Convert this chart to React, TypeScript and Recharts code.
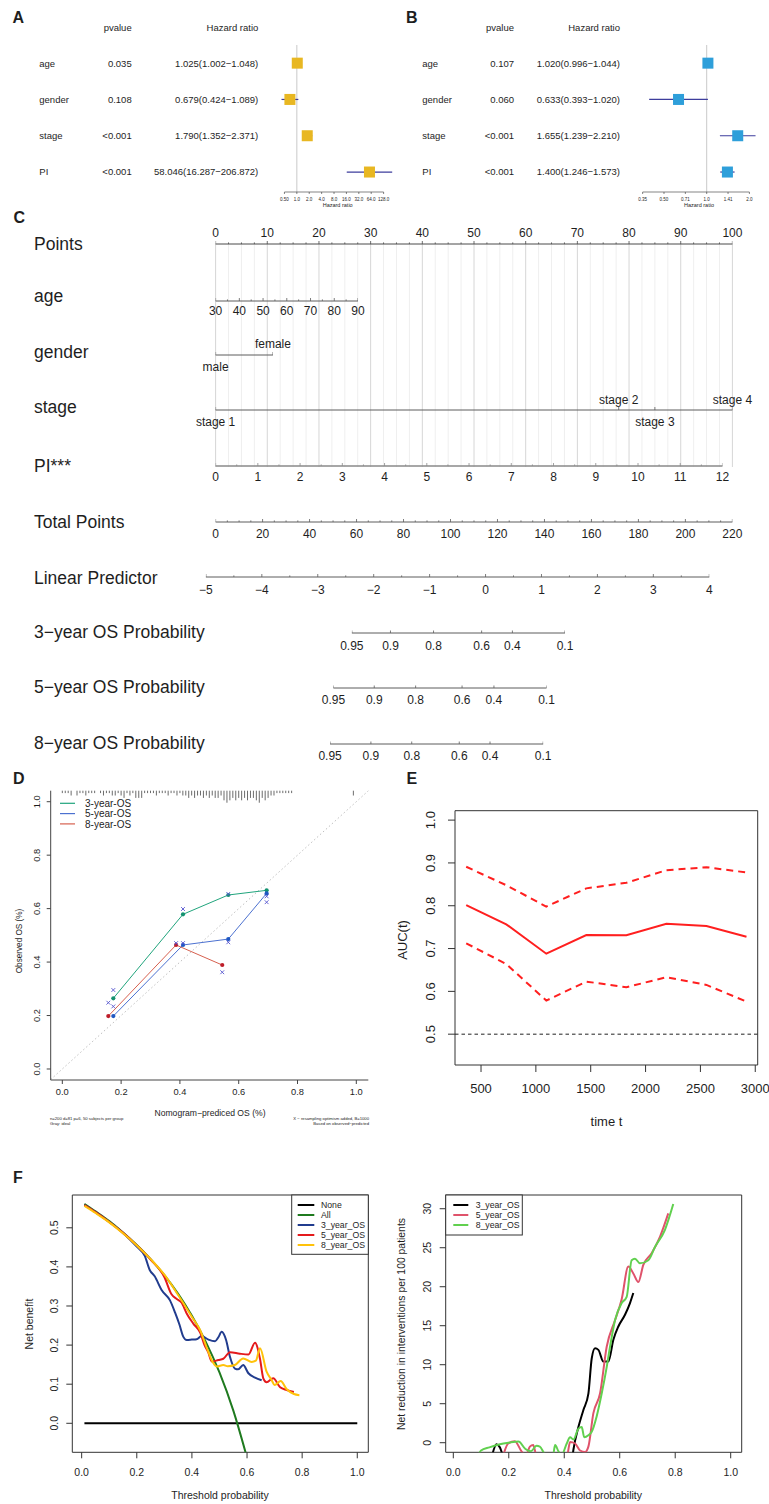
import React from 'react';
import { ScatterChart, Scatter, ComposedChart, Line, XAxis, YAxis, ReferenceLine, ReferenceArea } from 'recharts';

const FONT = '"Liberation Sans", Arial, Helvetica, sans-serif';
const INK = '#1e1e1e';

// ---------------- Panel A / B : forest plots ----------------
const factors = ['age', 'gender', 'stage', 'PI'];
const uniP = ['0.035', '0.108', '<0.001', '<0.001'];
const uniHR = [1.025, 0.679, 1.79, 58.046];
const uniLo = [1.002, 0.424, 1.352, 16.287];
const uniHi = [1.048, 1.089, 2.371, 206.872];
const multiP = ['0.107', '0.060', '<0.001', '<0.001'];
const multiHR = [1.02, 0.633, 1.655, 1.4];
const multiLo = [0.996, 0.393, 1.239, 1.246];
const multiHi = [1.044, 1.02, 2.21, 1.573];
const uniTicks = [0.5, 1, 2, 4, 8, 16, 32, 64, 128];
const uniTickLabels = ['0.50', '1.0', '2.0', '4.0', '8.0', '16.0', '32.0', '64.0', '128.0'];
const multiTicks = [0.3536, 0.5, 0.7071, 1, 1.4142, 2];
const multiTickLabels = ['0.35', '0.50', '0.71', '1.0', '1.41', '2.0'];

// ---------------- Panel C : nomogram ----------------
const pointsTicks = [0, 10, 20, 30, 40, 50, 60, 70, 80, 90, 100];
const ageTicks = [30, 40, 50, 60, 70, 80, 90];
const genderLevels = ['male', 'female'];
const genderPoints = [0, 11.1];
const stageLevels = ['stage 1', 'stage 2', 'stage 3', 'stage 4'];
const stagePoints = [0, 78.0, 85.0, 100];
const piTicks = [0, 1, 2, 3, 4, 5, 6, 7, 8, 9, 10, 11, 12];
const totalTicks = [0, 20, 40, 60, 80, 100, 120, 140, 160, 180, 200, 220];
const lpTicks = [-5, -4, -3, -2, -1, 0, 1, 2, 3, 4];
const osLabels = ['0.95', '0.9', '0.8', '0.6', '0.4', '0.1'];
const os3LP = [-2.39, -1.7, -0.93, -0.07, 0.48, 1.42];
const os5LP = [-2.72, -1.99, -1.25, -0.42, 0.15, 1.09];
const os8LP = [-2.78, -2.05, -1.32, -0.47, 0.08, 1.03];

// ---------------- Panel D : calibration ----------------
const calTicks = [0, 0.2, 0.4, 0.6, 0.8, 1.0];
const calX3 = [0.1735, 0.4105, 0.5646, 0.695];
const calY3 = [0.2645, 0.5787, 0.651, 0.6684];
const calX5 = [0.1735, 0.4105, 0.5646, 0.695];
const calY5 = [0.198, 0.464, 0.486, 0.657];
const calX8 = [0.1565, 0.387, 0.544];
const calY8 = [0.198, 0.464, 0.389];
const crossY3 = [0.2955, 0.5986, 0.655, 0.646];
const crossY5 = [0.234, 0.471, 0.474, 0.624];
const crossY8 = [0.248, 0.471, 0.362];
const rugCounts = [1, 1, 1, 2, 0, 2, 1, 1, 2, 1, 1, 1, 0, 1, 2, 1, 1, 2, 2, 1, 2, 3, 1, 2, 1, 3, 3, 3, 1, 1, 1, 1, 2, 1, 1, 1, 2, 1, 1, 2, 1, 2, 2, 3, 2, 3, 2, 2, 3, 2, 3, 2, 3, 3, 2, 4, 5, 4, 3, 4, 3, 4, 3, 4, 3, 3, 4, 5, 3, 4, 3, 2, 2, 1, 1, 1, 1, 1, 1];
const rugExtraX = [0.99];
const rugExtraC = [2];

// ---------------- Panel E : time-dependent AUC ----------------
const eTimes = [365, 730, 1095, 1460, 1825, 2190, 2555, 2920];
const eAUC = [0.8016, 0.7566, 0.688, 0.7317, 0.731, 0.758, 0.7527, 0.7277];
const eUpper = [0.891, 0.848, 0.798, 0.8406, 0.8537, 0.883, 0.89, 0.8777];
const eLower = [0.7123, 0.664, 0.5785, 0.6228, 0.6097, 0.633, 0.615, 0.5761];
const eXTicks = [500, 1000, 1500, 2000, 2500, 3000];
const eYTicks = [0.5, 0.6, 0.7, 0.8, 0.9, 1.0];

// ---------------- Panel F : decision curves ----------------
const fNone = [[0.01, 0], [1, 0]];
const fAll = [[0.01, 0.561], [0.05, 0.542], [0.1, 0.517], [0.15, 0.488], [0.2, 0.456], [0.25, 0.42], [0.3, 0.379], [0.35, 0.331], [0.4, 0.275], [0.45, 0.209], [0.5, 0.13], [0.55, 0.033], [0.6, -0.088]];
const f3yr = [[0.01, 0.558], [0.05, 0.54], [0.1, 0.515], [0.15, 0.487], [0.2, 0.452], [0.229, 0.428], [0.247, 0.392], [0.265, 0.376], [0.29, 0.341], [0.32, 0.315], [0.339, 0.283], [0.355, 0.252], [0.369, 0.221], [0.381, 0.213], [0.4, 0.214], [0.417, 0.215], [0.435, 0.223], [0.46, 0.214], [0.484, 0.21], [0.496, 0.22], [0.508, 0.234], [0.524, 0.213], [0.538, 0.17], [0.556, 0.14], [0.568, 0.138], [0.586, 0.149], [0.605, 0.128], [0.629, 0.117], [0.653, 0.11]];
const f5yr = [[0.01, 0.558], [0.05, 0.54], [0.1, 0.515], [0.15, 0.487], [0.2, 0.455], [0.25, 0.419], [0.3, 0.374], [0.326, 0.33], [0.345, 0.318], [0.362, 0.309], [0.381, 0.281], [0.405, 0.255], [0.43, 0.232], [0.447, 0.198], [0.459, 0.182], [0.472, 0.158], [0.496, 0.162], [0.514, 0.165], [0.538, 0.182], [0.574, 0.178], [0.605, 0.176], [0.629, 0.206], [0.647, 0.165], [0.659, 0.115], [0.671, 0.105], [0.695, 0.115], [0.72, 0.092], [0.744, 0.085], [0.77, 0.08]];
const f8yr = [[0.01, 0.556], [0.05, 0.538], [0.1, 0.514], [0.15, 0.486], [0.2, 0.455], [0.25, 0.42], [0.3, 0.38], [0.35, 0.328], [0.4, 0.272], [0.43, 0.238], [0.453, 0.195], [0.477, 0.155], [0.49, 0.145], [0.514, 0.149], [0.53, 0.146], [0.556, 0.149], [0.586, 0.166], [0.617, 0.157], [0.632, 0.16], [0.647, 0.192], [0.671, 0.132], [0.689, 0.111], [0.7, 0.098], [0.722, 0.108], [0.744, 0.087], [0.77, 0.075], [0.79, 0.072]];
const r3yr = [[0.14, -1.6], [0.156, -0.2], [0.168, -0.6], [0.18, -1.6], [0.425, -3], [0.433, -0.9], [0.451, 2.0], [0.469, 4.2], [0.487, 6.3], [0.499, 10.8], [0.511, 12.1], [0.523, 11.9], [0.541, 10.4], [0.559, 10.4], [0.577, 13.2], [0.595, 14.9], [0.619, 16.4], [0.637, 17.9], [0.649, 19.2]];
const r5yr = [[0.18, -1.6], [0.198, -0.1], [0.222, 0.2], [0.246, -1.1], [0.262, -1.6], [0.276, -0.5], [0.288, -0.3], [0.3, -1.6], [0.41, -1.6], [0.421, 0.1], [0.439, -0.1], [0.457, -1.0], [0.475, -1.2], [0.487, -0.5], [0.505, 3.8], [0.529, 6.3], [0.553, 12.3], [0.583, 15.7], [0.607, 18.4], [0.631, 22.6], [0.649, 21.7], [0.667, 20.6], [0.685, 22.8], [0.715, 24.3], [0.745, 26.4], [0.775, 29.4]];
const r8yr = [[0.08, -2.5], [0.1, -1.0], [0.13, -0.6], [0.168, -0.2], [0.2, 0.0], [0.235, 0.15], [0.26, -0.8], [0.28, -1.1], [0.3, -0.4], [0.312, -0.5], [0.33, -1.4], [0.36, -1.5], [0.367, -0.3], [0.379, -1.1], [0.39, -1.6], [0.409, -0.1], [0.421, 0.7], [0.433, 0.4], [0.451, 1.8], [0.463, 2.0], [0.472, 0.7], [0.487, 0.95], [0.499, 1.4], [0.517, 3.4], [0.535, 6.3], [0.553, 9.7], [0.565, 12.3], [0.583, 15.7], [0.607, 17.9], [0.625, 18.7], [0.643, 23.4], [0.655, 23.6], [0.673, 23.0], [0.703, 23.4], [0.727, 25.1], [0.763, 27.3], [0.793, 30.6]];
const fXTicks = [0, 0.2, 0.4, 0.6, 0.8, 1.0];
const fYTicks = [0, 0.1, 0.2, 0.3, 0.4, 0.5];
const rYTicks = [0, 5, 10, 15, 20, 25, 30];

const fLeftSeries = [
  { name: 'None', color: '#000000', data: fNone },
  { name: 'All', color: '#1F7A1F', data: fAll },
  { name: '3_year_OS', color: '#213C8E', data: f3yr },
  { name: '5_year_OS', color: '#E41A1C', data: f5yr },
  { name: '8_year_OS', color: '#FFC20A', data: f8yr },
];
const fRightSeries = [
  { name: '3_year_OS', color: '#000000', data: r3yr },
  { name: '5_year_OS', color: '#DF536B', data: r5yr },
  { name: '8_year_OS', color: '#61D04F', data: r8yr },
];
const calSeries = [
  { name: '3-year-OS', line: '#20A47C', dot: '#149270', xs: calX3, ys: calY3, cross: crossY3 },
  { name: '5-year-OS', line: '#4C71D0', dot: '#1F58C2', xs: calX5, ys: calY5, cross: crossY5 },
  { name: '8-year-OS', line: '#D6604F', dot: '#BE1E2A', xs: calX8, ys: calY8, cross: crossY8 },
];

const pairs = (arr: number[][]) => arr.map(([x, y]) => ({ x, y }));
const zip = (xs: number[], ys: number[]) => xs.map((x, i) => ({ x, y: ys[i] }));
const f1 = (v: number) => v.toFixed(1);

const botTick = (off: number, fs: number, fmt: (v: number) => string) => (t: any) => (
  <text x={t.x} y={t.y + off} textAnchor="middle" fontSize={fs} fill={INK} fontFamily={FONT}>{fmt(t.payload.value)}</text>
);
const rotTick = (off: number, fs: number, fmt: (v: number) => string) => (t: any) => {
  const bx = t.x - off + fs * 0.36;
  return (
    <text x={bx} y={t.y} transform={`rotate(-90 ${bx} ${t.y})`} textAnchor="middle" fontSize={fs} fill={INK} fontFamily={FONT}>
      {fmt(t.payload.value)}
    </text>
  );
};

// ---------------- Forest ----------------
function Forest(props: any) {
  const { left, width, plotLeft, plotWidth, domain, hr, lo, hi, p, ticks, tickLabels, color, labelX, pX, hrX } = props;
  const rows = factors.map((f, i) => ({ row: i + 1, hr: hr[i], lo: lo[i], hi: hi[i] }));
  const rowTick = (t: any) => {
    const i = Math.round(t.payload.value) - 1;
    const y = t.y + 3.4;
    return (
      <g>
        <text x={labelX} y={y} fontSize={9.5} fill={INK} fontFamily={FONT}>{factors[i]}</text>
        <text x={pX} y={y} fontSize={9.5} fill={INK} fontFamily={FONT} textAnchor="end">{p[i]}</text>
        <text x={hrX} y={y} fontSize={9.5} fill={INK} fontFamily={FONT} textAnchor="end">
          {`${hr[i].toFixed(3)}(${lo[i].toFixed(3)}\u2212${hi[i].toFixed(3)})`}
        </text>
      </g>
    );
  };
  const xTick = (t: any) => {
    const i = ticks.findIndex((v: number) => Math.abs(v - t.payload.value) < 1e-6);
    return <text x={t.x} y={t.y + 6.6} fontSize={4.5} textAnchor="middle" fill={INK} fontFamily={FONT}>{tickLabels[i]}</text>;
  };
  return (
    <div style={{ position: 'absolute', left, top: 0, width, height: 215 }}>
      <ScatterChart width={width} height={215} margin={{ top: 45, right: width - plotLeft - plotWidth, bottom: 0, left: 0 }}>
        <XAxis type="number" dataKey="hr" scale="log" domain={domain} allowDataOverflow ticks={ticks} interval={0}
          axisLine={false} tickLine={{ stroke: '#333', strokeWidth: 0.6 }} tickSize={2} tickMargin={0} height={23} tick={xTick} />
        <YAxis type="number" dataKey="row" domain={[0.5, 4.55]} reversed allowDataOverflow ticks={[1, 2, 3, 4]} interval={0}
          width={plotLeft} axisLine={false} tickLine={false} tick={rowTick} />
        <ReferenceLine x={1} stroke="#c9c9c9" strokeWidth={1} ifOverflow="visible" />
        <ReferenceLine segment={[{ x: ticks[0], y: 4.55 }, { x: ticks[ticks.length - 1], y: 4.55 }]} stroke="#333" strokeWidth={0.6} ifOverflow="visible" />
        {rows.map((r) => (
          <ReferenceLine key={r.row} segment={[{ x: r.lo, y: r.row }, { x: r.hi, y: r.row }]} stroke="#3d3d9c" strokeWidth={1.2} ifOverflow="visible" />
        ))}
        <Scatter data={rows} isAnimationActive={false}
          shape={(s: any) => <rect x={s.cx - 5.5} y={s.cy - 5.5} width={11} height={11} fill={color} />} />
      </ScatterChart>
    </div>
  );
}

// ---------------- Nomogram ----------------
function NomoGrid() {
  const top = 244, bottom = 467, H = 240, pxMin = 215.6, plotW = 516.8;
  const minor: number[] = [];
  const major: number[] = [];
  for (let k = 0; k <= 40; k++) {
    const v = k * 2.5;
    if (k % 4 === 0) major.push(v); else minor.push(v);
  }
  return (
    <div style={{ position: 'absolute', left: 0, top: top - 4, width: 769, height: H }}>
      <ScatterChart width={769} height={H} margin={{ top: 4, right: 769 - pxMin - plotW, bottom: H - 4 - (bottom - top), left: pxMin }}>
        <XAxis type="number" dataKey="x" domain={[0, 100]} allowDataOverflow hide />
        <YAxis type="number" dataKey="y" domain={[0, 1]} hide />
        {minor.map((v) => <ReferenceLine key={'m' + v} x={v} stroke="#efefef" strokeWidth={1} ifOverflow="visible" />)}
        {major.map((v) => <ReferenceLine key={'M' + v} x={v} stroke="#d6d6d6" strokeWidth={1} ifOverflow="visible" />)}
        <Scatter data={[{ x: 0, y: 0 }]} isAnimationActive={false} shape={() => <g />} />
      </ScatterChart>
    </div>
  );
}

function NomoAxis(props: any) {
  const { axisY, pxMin, ppu, domain, major, labels, sides, minorStep, lineColor = '#5c5c5c', lineWidth = 1,
    belowOff = 15.5, aboveOff = -7, majorLen = 3, minorLen = 1.6 } = props;
  const W = 769, H = 50, A = 25;
  const plotW = (domain[1] - domain[0]) * ppu;
  const minor: number[] = [];
  if (minorStep) {
    const n = Math.round((major[major.length - 1] - major[0]) / minorStep);
    for (let k = 0; k <= n; k++) {
      const v = +(major[0] + k * minorStep).toFixed(4);
      if (!major.some((m: number) => Math.abs(m - v) < 1e-6)) minor.push(v);
    }
  }
  const marks = [
    ...major.map((v: number) => ({ x: v, y: 0, len: majorLen })),
    ...minor.map((v: number) => ({ x: v, y: 0, len: minorLen })),
  ];
  const tickR = (t: any) => {
    const i = major.findIndex((m: number) => Math.abs(m - t.payload.value) < 1e-6);
    if (i < 0) return <g />;
    const above = sides[i] === 'a';
    return (
      <text x={t.x} y={t.y + (above ? aboveOff : belowOff)} textAnchor="middle" fontSize={12} fill={INK} fontFamily={FONT}>{labels[i]}</text>
    );
  };
  return (
    <div style={{ position: 'absolute', left: 0, top: axisY - A, width: W, height: H }}>
      <ScatterChart width={W} height={H} margin={{ top: A - 5, right: W - pxMin - plotW, bottom: H - A - 1, left: pxMin }}>
        <XAxis type="number" dataKey="x" domain={domain} allowDataOverflow ticks={major} interval={0} height={1}
          axisLine={{ stroke: lineColor, strokeWidth: lineWidth }} tickLine={false} tickSize={0} tickMargin={0} tick={tickR} />
        <YAxis type="number" dataKey="y" domain={[0, 1]} hide />
        <Scatter data={marks} isAnimationActive={false}
          shape={(s: any) => <line x1={s.cx} x2={s.cx} y1={s.cy} y2={s.cy - s.payload.len} stroke={lineColor} strokeWidth={0.8} />} />
      </ScatterChart>
    </div>
  );
}

const allB = (n: number) => Array.from({ length: n }, () => 'b');
const minusLabel = (v: number) => (v < 0 ? '\u2212' + Math.abs(v) : String(v));

function Nomogram() {
  const LP0 = 205.9, LPU = 55.93;
  const lpPx = (v: number) => LP0 + (v + 5) * LPU;
  return (
    <>
      <NomoGrid />
      <NomoAxis axisY={244} pxMin={215.6} ppu={5.168} domain={[0, 100]} major={pointsTicks} labels={pointsTicks.map(String)}
        sides={pointsTicks.map(() => 'a')} minorStep={2.5} lineColor="#4a4a4a" />
      <NomoAxis axisY={301.3} pxMin={215.6} ppu={2.373} domain={[30, 90]} major={ageTicks} labels={ageTicks.map(String)}
        sides={allB(ageTicks.length)} minorStep={5} belowOff={14} />
      <NomoAxis axisY={355} pxMin={215.6} ppu={5.168} domain={[genderPoints[0], genderPoints[1]]} major={genderPoints}
        labels={genderLevels} sides={['b', 'a']} />
      <NomoAxis axisY={410.3} pxMin={215.6} ppu={5.168} domain={[0, 100]} major={stagePoints} labels={stageLevels}
        sides={['b', 'a', 'b', 'a']} aboveOff={-6} />
      <NomoAxis axisY={466} pxMin={215.6} ppu={42.24} domain={[0, 12]} major={piTicks} labels={piTicks.map(String)}
        sides={allB(piTicks.length)} minorStep={0.5} lineColor="#8a8a8a" lineWidth={1.6} belowOff={14.7} />
      <NomoAxis axisY={521.7} pxMin={215.6} ppu={2.349} domain={[0, 220]} major={totalTicks} labels={totalTicks.map(String)}
        sides={allB(totalTicks.length)} minorStep={5} />
      <NomoAxis axisY={577.3} pxMin={LP0} ppu={LPU} domain={[-5, 4]} major={lpTicks} labels={lpTicks.map(minusLabel)}
        sides={allB(lpTicks.length)} minorStep={0.5} belowOff={16.5} />
      <NomoAxis axisY={632.7} pxMin={lpPx(os3LP[0])} ppu={LPU} domain={[os3LP[0], os3LP[os3LP.length - 1]]} major={os3LP}
        labels={osLabels} sides={allB(6)} belowOff={17} majorLen={2.5} />
      <NomoAxis axisY={688.3} pxMin={lpPx(os5LP[0])} ppu={LPU} domain={[os5LP[0], os5LP[os5LP.length - 1]]} major={os5LP}
        labels={osLabels} sides={allB(6)} belowOff={16} majorLen={2.5} />
      <NomoAxis axisY={744} pxMin={lpPx(os8LP[0])} ppu={LPU} domain={[os8LP[0], os8LP[os8LP.length - 1]]} major={os8LP}
        labels={osLabels} sides={allB(6)} belowOff={16} majorLen={2.5} />
    </>
  );
}

// ---------------- Panel D ----------------
function PanelD() {
  const XD: [number, number] = [-0.0395, 1.0408];
  const YD: [number, number] = [-0.0412, 1.0412];
  const rug = [
    ...rugCounts.map((c, i) => ({ x: i * 0.01, c })),
    ...rugExtraX.map((x, i) => ({ x, c: rugExtraC[i] })),
  ].filter((r) => r.c > 0);
  const xShape = (s: any) => (
    <g stroke="#5656CF" strokeWidth={0.9}>
      <line x1={s.cx - 1.9} y1={s.cy - 1.9} x2={s.cx + 1.9} y2={s.cy + 1.9} />
      <line x1={s.cx - 1.9} y1={s.cy + 1.9} x2={s.cx + 1.9} y2={s.cy - 1.9} />
    </g>
  );
  return (
    <div style={{ position: 'absolute', left: 0, top: 770, width: 384, height: 330 }}>
      <ComposedChart width={384} height={330} margin={{ top: 20.7, right: 15.7, bottom: 0, left: 0 }}>
        <XAxis type="number" dataKey="x" domain={XD} allowDataOverflow ticks={calTicks} interval={0} height={20}
          stroke="#444" tickSize={4} tickMargin={0} tick={botTick(11, 9.3, f1)} />
        <YAxis type="number" dataKey="y" domain={YD} allowDataOverflow ticks={calTicks} interval={0} width={50.7}
          stroke="#444" tickSize={4} tickMargin={0} tick={rotTick(9.7, 9.3, f1)} />
        <ReferenceLine segment={[{ x: XD[0], y: XD[0] }, { x: XD[1], y: XD[1] }]} stroke="#b8b8b8" strokeWidth={0.9} strokeDasharray="1.5 2.5" ifOverflow="visible" />
        {rug.map((r, i) => (
          <ReferenceLine key={'r' + i} segment={[{ x: r.x, y: YD[1] }, { x: r.x, y: YD[1] - r.c * 0.009 }]} stroke="#3a3a3a" strokeWidth={0.75} ifOverflow="visible" />
        ))}
        {calSeries.map((s) => (
          <Line key={s.name} data={zip(s.xs, s.ys)} dataKey="y" type="linear" stroke={s.line} strokeWidth={1}
            dot={{ r: 2.1, fill: s.dot, stroke: s.dot, strokeWidth: 0 }} activeDot={false} isAnimationActive={false} />
        ))}
        {calSeries.map((s) => (
          <Scatter key={'x' + s.name} data={zip(s.xs, s.cross)} isAnimationActive={false} shape={xShape} />
        ))}
      </ComposedChart>
    </div>
  );
}

// ---------------- Panel E ----------------
function PanelE() {
  const XD: [number, number] = [262.8, 3022.2];
  const YD: [number, number] = [0.428, 1.022];
  return (
    <div style={{ position: 'absolute', left: 385, top: 770, width: 384, height: 340 }}>
      <ComposedChart width={384} height={340} margin={{ top: 40.7, right: 11.3, bottom: 0, left: 0 }}>
        <XAxis type="number" dataKey="x" domain={XD} allowDataOverflow ticks={eXTicks} interval={0} height={45}
          axisLine={false} tickLine={{ stroke: '#333' }} tickSize={7} tickMargin={0} tick={botTick(20.7, 13, String)} />
        <YAxis type="number" dataKey="y" domain={YD} allowDataOverflow ticks={eYTicks} interval={0} width={70}
          axisLine={false} tickLine={{ stroke: '#333' }} tickSize={7} tickMargin={0} tick={rotTick(18, 13, f1)} />
        <ReferenceArea x1={XD[0]} x2={XD[1]} y1={YD[0]} y2={YD[1]} fill="none" fillOpacity={0} stroke="#333" strokeWidth={1} ifOverflow="visible" />
        <ReferenceLine y={0.5} stroke="#222" strokeWidth={1} strokeDasharray="3.5 3" />
        <Line data={zip(eTimes, eUpper)} dataKey="y" type="linear" stroke="#FF1F1F" strokeWidth={2} strokeDasharray="7 5" dot={false} activeDot={false} isAnimationActive={false} />
        <Line data={zip(eTimes, eAUC)} dataKey="y" type="linear" stroke="#FF1F1F" strokeWidth={2} dot={false} activeDot={false} isAnimationActive={false} />
        <Line data={zip(eTimes, eLower)} dataKey="y" type="linear" stroke="#FF1F1F" strokeWidth={2} strokeDasharray="7 5" dot={false} activeDot={false} isAnimationActive={false} />
      </ComposedChart>
    </div>
  );
}

// ---------------- Panel F ----------------
function PanelFLeft() {
  const XD: [number, number] = [-0.034, 1.04];
  const YD: [number, number] = [-0.0742, 0.5839];
  return (
    <div style={{ position: 'absolute', left: 0, top: 1150, width: 384, height: 354 }}>
      <ComposedChart width={384} height={354} margin={{ top: 45, right: 15.7, bottom: 0, left: 0 }}>
        <XAxis type="number" dataKey="x" domain={XD} allowDataOverflow ticks={fXTicks} interval={0} height={51.7}
          axisLine={false} tickLine={{ stroke: '#333' }} tickSize={6} tickMargin={0} tick={botTick(17.2, 10.5, f1)} />
        <YAxis type="number" dataKey="y" domain={YD} allowDataOverflow ticks={fYTicks} interval={0} width={72.3}
          axisLine={false} tickLine={{ stroke: '#333' }} tickSize={6} tickMargin={0} tick={rotTick(12.3, 10.5, f1)} />
        <ReferenceArea x1={XD[0]} x2={XD[1]} y1={YD[0]} y2={YD[1]} fill="none" fillOpacity={0} stroke="#333" strokeWidth={1} ifOverflow="visible" />
        {fLeftSeries.map((s) => (
          <Line key={s.name} data={pairs(s.data)} dataKey="y" type="monotone" stroke={s.color} strokeWidth={2} dot={false} activeDot={false} isAnimationActive={false} />
        ))}
      </ComposedChart>
    </div>
  );
}

function PanelFRight() {
  const XD: [number, number] = [-0.0274, 1.0397];
  const YD: [number, number] = [-1.23, 31.76];
  return (
    <div style={{ position: 'absolute', left: 385, top: 1150, width: 384, height: 354 }}>
      <ComposedChart width={384} height={354} margin={{ top: 45, right: 27.3, bottom: 0, left: 0 }}>
        <XAxis type="number" dataKey="x" domain={XD} allowDataOverflow ticks={fXTicks} interval={0} height={51.7}
          axisLine={false} tickLine={{ stroke: '#333' }} tickSize={6} tickMargin={0} tick={botTick(17.2, 10.5, f1)} />
        <YAxis type="number" dataKey="y" domain={YD} allowDataOverflow ticks={rYTicks} interval={0} width={60.7}
          axisLine={false} tickLine={{ stroke: '#333' }} tickSize={6} tickMargin={0} tick={rotTick(12.2, 10.5, String)} />
        <ReferenceArea x1={XD[0]} x2={XD[1]} y1={YD[0]} y2={YD[1]} fill="none" fillOpacity={0} stroke="#333" strokeWidth={1} ifOverflow="visible" />
        {fRightSeries.map((s) => (
          <Line key={s.name} data={pairs(s.data)} dataKey="y" type="monotone" stroke={s.color} strokeWidth={2} dot={false} activeDot={false} isAnimationActive={false} />
        ))}
      </ComposedChart>
    </div>
  );
}

// ---------------- Overlay text ----------------
function T(p: { x: number; y: number; s: number; a?: 'start' | 'middle' | 'end'; w?: number; c?: string; children: any }) {
  return (
    <text x={p.x} y={p.y} fontSize={p.s} textAnchor={p.a || 'start'} fontWeight={p.w || 400} fill={p.c || INK} fontFamily={FONT}>
      {p.children}
    </text>
  );
}
function VT(p: { bx: number; cy: number; s: number; children: any }) {
  return (
    <text x={p.bx} y={p.cy} fontSize={p.s} textAnchor="middle" fill={INK} fontFamily={FONT} transform={`rotate(-90 ${p.bx} ${p.cy})`}>
      {p.children}
    </text>
  );
}

const nomoLabels = ['Points', 'age', 'gender', 'stage', 'PI***', 'Total Points', 'Linear Predictor', '3\u2212year OS Probability', '5\u2212year OS Probability', '8\u2212year OS Probability'];
const nomoLabelY = [250, 301.7, 358.3, 413.3, 471.7, 528.3, 584.3, 638.3, 693.3, 749.3];

function Overlay() {
  return (
    <svg width={769} height={1504} style={{ position: 'absolute', left: 0, top: 0, pointerEvents: 'none' }}>
      {/* panel letters */}
      <T x={12.5} y={23} s={16} w={700}>A</T>
      <T x={406} y={22.7} s={16} w={700}>B</T>
      <T x={13.5} y={222.5} s={16} w={700}>C</T>
      <T x={13} y={784} s={16} w={700}>D</T>
      <T x={406.5} y={784} s={16} w={700}>E</T>
      <T x={13} y={1183} s={16} w={700}>F</T>

      {/* forest headers */}
      <T x={131.7} y={30.5} s={9.5} a="end">pvalue</T>
      <T x={258.3} y={30.5} s={9.5} a="end">Hazard ratio</T>
      <T x={514} y={30.5} s={9.5} a="end">pvalue</T>
      <T x={620} y={30.5} s={9.5} a="end">Hazard ratio</T>
      <T x={337.7} y={206.7} s={5.5} a="middle">Hazard ratio</T>
      <T x={699} y={206.7} s={5.5} a="middle">Hazard ratio</T>

      {/* nomogram row labels */}
      {nomoLabels.map((l, i) => (
        <T key={l} x={34} y={nomoLabelY[i]} s={17.5}>{l}</T>
      ))}

      {/* panel D texts */}
      <VT bx={22} cy={941} s={8.2}>Observed OS (%)</VT>
      <T x={210} y={1116.3} s={8.6} a="middle">{'Nomogram\u2212prediced OS (%)'}</T>
      <T x={50} y={1119.5} s={4.2}>n=200 d=81 p=6, 50 subjects per group</T>
      <T x={50} y={1124.7} s={4.2}>Gray: ideal</T>
      <T x={369} y={1119.5} s={4.2} a="end">{'X \u2212 resampling optimism added, B=1000'}</T>
      <T x={369} y={1124.7} s={4.2} a="end">{'Based on observed\u2212predicted'}</T>
      {calSeries.map((s, i) => (
        <g key={s.name}>
          <line x1={60} x2={75} y1={803.3 + i * 10.3} y2={803.3 + i * 10.3} stroke={s.line} strokeWidth={1.2} />
          <T x={85} y={806.9 + i * 10.3} s={10}>{s.name}</T>
        </g>
      ))}

      {/* panel E texts */}
      <VT bx={407.3} cy={940} s={13}>AUC(t)</VT>
      <T x={606.5} y={1125.5} s={13} a="middle">time t</T>

      {/* panel F texts */}
      <VT bx={33.3} cy={1324} s={10.5}>Net benefit</VT>
      <T x={220} y={1499} s={10.5} a="middle">Threshold probability</T>
      <VT bx={404.6} cy={1324} s={10.4}>Net reduction in interventions per 100 patients</VT>
      <T x={593.3} y={1499} s={10.5} a="middle">Threshold probability</T>

      {/* F left legend */}
      <rect x={291.7} y={1195} width={76.6} height={59.3} fill="#fff" stroke="#333" strokeWidth={1} />
      {fLeftSeries.map((s, i) => (
        <g key={'fl' + s.name}>
          <line x1={297.7} x2={314.3} y1={1205 + i * 10} y2={1205 + i * 10} stroke={s.color} strokeWidth={2} />
          <T x={321} y={1208.1 + i * 10} s={8.7}>{s.name}</T>
        </g>
      ))}
      {/* F right legend */}
      <rect x={445.7} y={1195} width={76.6} height={40} fill="#fff" stroke="#333" strokeWidth={1} />
      {fRightSeries.map((s, i) => (
        <g key={'fr' + s.name}>
          <line x1={453.3} x2={468.3} y1={1205 + i * 10} y2={1205 + i * 10} stroke={s.color} strokeWidth={2} />
          <T x={475.7} y={1208.1 + i * 10} s={8.7}>{s.name}</T>
        </g>
      ))}
    </svg>
  );
}

export default function App() {
  return (
    <div style={{ position: 'absolute', left: 0, top: 0, width: 769, height: 1504, background: '#fff', overflow: 'hidden', fontFamily: FONT }}>
      <Forest left={0} width={401} plotLeft={275.3} plotWidth={124.7} domain={[0.3, 320]} hr={uniHR} lo={uniLo} hi={uniHi} p={uniP}
        ticks={uniTicks} tickLabels={uniTickLabels} color="#E8B722" labelX={39.3} pX={131.7} hrX={258.3} />
      <Forest left={384} width={374} plotLeft={254.4} plotWidth={119.6} domain={[0.33, 2.3]} hr={multiHR} lo={multiLo} hi={multiHi} p={multiP}
        ticks={multiTicks} tickLabels={multiTickLabels} color="#2E9FDA" labelX={38.3} pX={130} hrX={236} />
      <Nomogram />
      <PanelD />
      <PanelE />
      <PanelFLeft />
      <PanelFRight />
      <Overlay />
    </div>
  );
}
